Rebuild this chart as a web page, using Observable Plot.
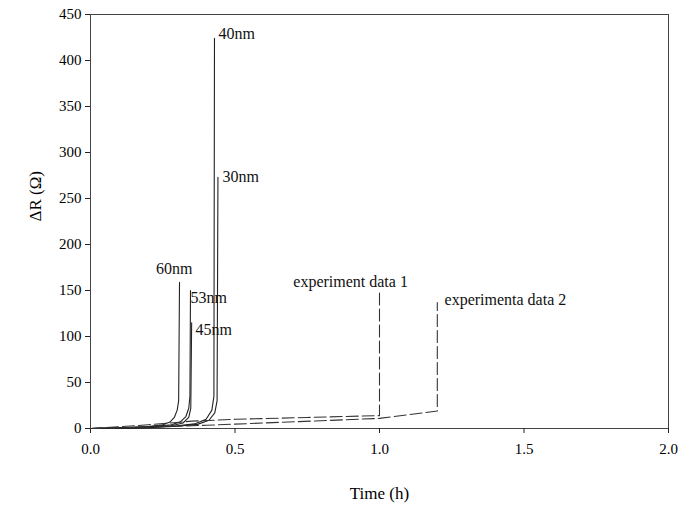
<!DOCTYPE html>
<html>
<head>
<meta charset="utf-8">
<script src="https://cdn.jsdelivr.net/npm/d3@7"></script>
<script src="https://cdn.jsdelivr.net/npm/@observablehq/plot@0.6"></script>
<style>
  html, body { margin: 0; padding: 0; background: #fff; }
  #chart svg { display: block; }
</style>
</head>
<body>
<div id="chart"></div>
<script>
// Simulated curves (time in h, ΔR in Ω)
const t60 = [0, 0.1, 0.2, 0.25, 0.275, 0.29, 0.3, 0.305, 0.308];
const r60 = [0, 0.7, 2.2, 4, 7, 12, 20, 30, 159];
const t53 = [0, 0.1, 0.2, 0.28, 0.31, 0.33, 0.34, 0.344, 0.346];
const r53 = [0, 0.6, 1.8, 4, 7, 13, 22, 35, 150];
const t45 = [0, 0.1, 0.2, 0.28, 0.32, 0.34, 0.347, 0.35];
const r45 = [0, 0.5, 1.5, 3, 6, 12, 22, 115];
const t40 = [0, 0.1, 0.2, 0.3, 0.36, 0.4, 0.42, 0.427, 0.429];
const r40 = [0, 0.4, 1.2, 3, 5, 10, 20, 35, 424];
const t30 = [0, 0.1, 0.2, 0.3, 0.37, 0.41, 0.43, 0.438, 0.441];
const r30 = [0, 0.3, 1, 2.5, 4.5, 9, 17, 30, 273];
// Experiment curves
const tExp1 = [0, 0.2, 0.35, 0.5, 0.75, 1.0, 1.0];
const rExp1 = [0, 4, 8, 10, 12, 14, 149];
const tExp2 = [0, 0.2, 0.4, 0.6, 0.8, 1.0, 1.2, 1.2];
const rExp2 = [0, 1.5, 3.5, 6, 8.5, 11, 19, 137];

// Curve labels
const labelText = ["40nm", "30nm", "60nm", "53nm", "45nm", "experiment data 1", "experimenta data 2"];
const labelT = [0.443, 0.457, 0.29, 0.346, 0.363, 0.9, 1.225];
const labelR = [429, 273, 174, 142, 107, 159, 140];
const labelAnchor = ["start", "start", "middle", "start", "start", "middle", "start"];

const xTicks = [0, 0.5, 1.0, 1.5, 2.0];
const yTicks = [0, 50, 100, 150, 200, 250, 300, 350, 400, 450];

const toRows = (name, ts, rs) => ts.map((t, i) => ({series: name, t, r: rs[i]}));
const solid = [
  ...toRows("60nm", t60, r60),
  ...toRows("53nm", t53, r53),
  ...toRows("45nm", t45, r45),
  ...toRows("40nm", t40, r40),
  ...toRows("30nm", t30, r30)
];
const dashed = [
  ...toRows("exp1", tExp1, rExp1),
  ...toRows("exp2", tExp2, rExp2)
];
const labels = labelText.map((s, i) => ({s, t: labelT[i], r: labelR[i], a: labelAnchor[i]}));

const font = "Liberation Serif, Times New Roman, serif";

const chart = Plot.plot({
  width: 700,
  height: 506,
  marginLeft: 90,
  marginRight: 32,
  marginTop: 14,
  marginBottom: 78,
  style: {fontFamily: font, background: "#fff", color: "#000"},
  x: {domain: [0, 2], ticks: xTicks, tickFormat: d3.format(".1f"), label: null},
  y: {domain: [0, 450], ticks: yTicks, label: null},
  marks: [
    Plot.frame({stroke: "#444", strokeWidth: 1}),
    Plot.axisX({ticks: xTicks, tickFormat: d3.format(".1f"), tickSize: 5, tickPadding: 10, fontSize: 15, label: null, stroke: "#222"}),
    Plot.axisY({ticks: yTicks, tickSize: 5, tickPadding: 4, fontSize: 15, label: null, stroke: "#222"}),
    Plot.line(solid, {x: "t", y: "r", z: "series", stroke: "#222", strokeWidth: 1.1}),
    Plot.line(dashed, {x: "t", y: "r", z: "series", stroke: "#333", strokeWidth: 1.1, strokeDasharray: "12,4"}),
    Plot.text(labels.filter(d => d.a === "start"), {x: "t", y: "r", text: "s", textAnchor: "start", fontSize: 16, fill: "#111"}),
    Plot.text(labels.filter(d => d.a === "middle"), {x: "t", y: "r", text: "s", textAnchor: "middle", fontSize: 16, fill: "#111"}),
    Plot.text(["Time (h)"], {x: 1.0, y: 0, frameAnchor: "bottom", dy: 70, text: d => d, fontSize: 17, fill: "#000"}),
    Plot.text(["ΔR (Ω)"], {frameAnchor: "left", dx: -55, rotate: -90, text: d => d, fontSize: 17, fill: "#000"})
  ]
});
document.getElementById("chart").appendChild(chart);
</script>
</body>
</html>
